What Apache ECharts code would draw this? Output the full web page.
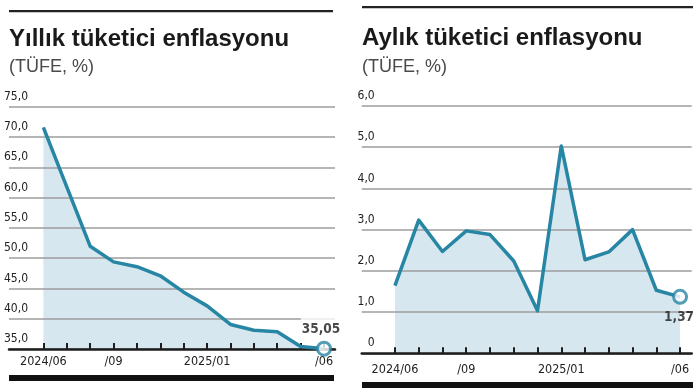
<!DOCTYPE html>
<html>
<head>
<meta charset="utf-8">
<script src="https://cdn.jsdelivr.net/npm/echarts@6/dist/echarts.min.js"></script>
<style>html,body{margin:0;padding:0;background:#fff}#c{width:700px;height:392px}</style>
</head>
<body>
<div id="c"></div>
<script>
const months = ['2024/06','2024/07','2024/08','2024/09','2024/10','2024/11','2024/12','2025/01','2025/02','2025/03','2025/04','2025/05','2025/06'];
const annual = [71.60, 61.78, 51.97, 49.38, 48.58, 47.09, 44.38, 42.12, 39.05, 38.10, 37.86, 35.41, 35.05];
const monthly = [1.64, 3.23, 2.47, 2.97, 2.88, 2.24, 1.03, 5.03, 2.27, 2.46, 3.00, 1.53, 1.37];
const xLabelIdx = [0, 3, 7, 12];
const xLabelText = ['2024/06', '/09', '2025/01', '/06'];
const annualY = { min: 35, max: 75, step: 5 };
const monthlyY = { min: 0, max: 6, step: 1 };
const titles = ['Yıllık tüketici enflasyonu', 'Aylık tüketici enflasyonu'];
const subtitle = '(TÜFE, %)';

const LINE = '#2886a5', FILL = '#d7e7ef', GRID = '#9c9c9c', DARK = '#1e1e1e';
const NARROW = '"Liberation Sans Narrow", "DejaVu Sans Condensed", sans-serif';
const comma = (v, d) => v.toFixed(d).replace('.', ',');
const tickIdx = months.map((m, i) => i);

function xAxisCfg(gridIndex, min, max, margin) {
  return {
    type: 'value', gridIndex, min, max, z: 3,
    splitLine: { show: false },
    axisLine: { show: true, lineStyle: { color: DARK, width: 2.5 } },
    axisTick: { show: true, inside: true, length: 6, customValues: tickIdx, lineStyle: { color: DARK, width: 2 } },
    axisLabel: {
      show: true, customValues: xLabelIdx, margin,
      fontFamily: NARROW, fontSize: 12.5, color: '#222',
      formatter: v => xLabelText[xLabelIdx.indexOf(Math.round(v))] || ''
    }
  };
}
function yAxisCfg(gridIndex, cfg, margin, fmt) {
  return {
    type: 'value', gridIndex, min: cfg.min, max: cfg.max, interval: cfg.step, z: 2,
    axisLine: { show: false }, axisTick: { show: false },
    splitLine: { show: true, lineStyle: { color: GRID, width: 1.5 } },
    axisLabel: {
      inside: true, align: 'right', verticalAlign: 'bottom', margin,
      padding: [0, 0, 4, 0], fontFamily: NARROW, fontSize: 12, color: '#222', formatter: fmt
    }
  };
}
function areaSeries(idx, vals) {
  return { type: 'line', xAxisIndex: idx, yAxisIndex: idx, z: 1, symbol: 'none',
    lineStyle: { width: 0 }, areaStyle: { color: FILL, opacity: 1 },
    data: vals.map((v, i) => [i, v]), silent: true };
}
function lineSeries(idx, vals) {
  return { type: 'line', xAxisIndex: idx, yAxisIndex: idx, z: 4, symbol: 'none',
    lineStyle: { width: 3.5, color: LINE, join: 'round' },
    data: vals.map((v, i) => [i, v]) };
}
function endSeries(idx, vals, label) {
  const last = vals.length - 1;
  return { type: 'scatter', xAxisIndex: idx, yAxisIndex: idx, z: 5,
    symbol: 'circle', symbolSize: 13,
    itemStyle: { color: '#fff', borderColor: LINE, borderWidth: 3 },
    label: Object.assign({ show: true, fontFamily: NARROW, fontWeight: 'bold', fontSize: 13.5, color: '#1a1a1a',
      formatter: p => comma(p.value[1], 2) }, label),
    data: [[last, vals[last]]] };
}

const TF = '"Liberation Sans", sans-serif';
const chart = echarts.init(document.getElementById('c'), null, { renderer: 'canvas' });
chart.setOption({
  animation: false,
  title: [
    { text: titles[0], left: 9, top: 27, padding: 0, textStyle: { fontFamily: TF, fontWeight: 'bold', fontSize: 24, color: '#1a1a1a' } },
    { text: subtitle, left: 9, top: 58, padding: 0, textStyle: { fontFamily: TF, fontWeight: 'normal', fontSize: 18, color: '#4a4a4a' } },
    { text: titles[1], left: 362, top: 26, padding: 0, textStyle: { fontFamily: TF, fontWeight: 'bold', fontSize: 24, color: '#1a1a1a' } },
    { text: subtitle, left: 362, top: 58, padding: 0, textStyle: { fontFamily: TF, fontWeight: 'normal', fontSize: 18, color: '#4a4a4a' } }
  ],
  grid: [
    { left: 9, right: 365, top: 106.7, bottom: 43 },
    { left: 361.7, right: 8.3, top: 106, bottom: 38.7 }
  ],
  xAxis: [
    xAxisCfg(0, -1.47, 12.47, 6),
    xAxisCfg(1, -1.40, 12.49, 10)
  ],
  yAxis: [
    yAxisCfg(0, annualY, 19, v => comma(v, 1)),
    yAxisCfg(1, monthlyY, 13, v => v === 0 ? '0' : comma(v, 1))
  ],
  series: [
    areaSeries(0, annual), lineSeries(0, annual),
    endSeries(0, annual, { position: 'top', distance: 4, offset: [-3, 0], backgroundColor: '#fff', padding: [6, 1, 0, 1] }),
    areaSeries(1, monthly), lineSeries(1, monthly),
    endSeries(1, monthly, { position: 'bottom', distance: 6, offset: [-1, 0] })
  ],
  graphic: [
    { type: 'rect', shape: { x: 9, y: 10, width: 324, height: 2.3 }, style: { fill: '#222' } },
    { type: 'rect', shape: { x: 362, y: 6, width: 331, height: 2.3 }, style: { fill: '#222' } },
    { type: 'rect', shape: { x: 9, y: 375, width: 325, height: 6 }, style: { fill: '#111' } },
    { type: 'rect', shape: { x: 362, y: 382, width: 331, height: 6 }, style: { fill: '#111' } }
  ]
});
</script>
</body>
</html>
